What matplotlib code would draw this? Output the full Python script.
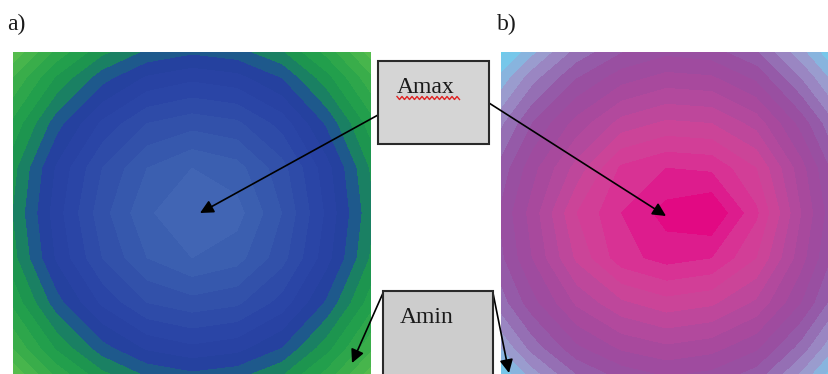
import numpy as np
import matplotlib
matplotlib.use("Agg")
import matplotlib.pyplot as plt
from matplotlib.colors import LinearSegmentedColormap
from matplotlib.patches import Rectangle
from matplotlib.lines import Line2D

W, H = 829, 374

# relative amplitude (%), 9x9 grid, top row first
amp_a = [
    [14, 30, 42, 49, 52, 50, 44, 32, 16],
    [30, 46, 58, 66, 69, 67, 60, 47, 31],
    [41, 58, 71, 80, 83, 81, 73, 59, 42],
    [48, 66, 80, 90, 95, 92, 82, 67, 49],
    [50, 68, 83, 94, 100, 97, 85, 69, 51],
    [48, 66, 80, 90, 95, 92, 82, 67, 49],
    [41, 58, 71, 80, 83, 81, 73, 59, 42],
    [30, 46, 58, 66, 69, 67, 60, 47, 31],
    [14, 30, 42, 49, 52, 50, 44, 32, 16],
]

# panel b, same grid, peak a bit lower and to the right
amp_b = [
    [10, 22, 36, 44, 48, 46, 40, 26, 10],
    [22, 38, 50, 58, 62, 61, 54, 40, 24],
    [34, 50, 62, 72, 76, 75, 68, 53, 36],
    [42, 58, 72, 86, 90, 89, 80, 62, 43],
    [46, 62, 80, 90, 97, 100, 86, 65, 46],
    [44, 60, 76, 88, 92, 90, 80, 62, 44],
    [38, 53, 66, 74, 78, 76, 69, 55, 38],
    [25, 42, 54, 61, 64, 62, 56, 43, 26],
    [10, 26, 39, 46, 50, 48, 42, 28, 11],
]

levels = np.arange(10, 105, 5)

cmap_a = LinearSegmentedColormap.from_list("amp_a", [
    (0.000, "#86d468"), (0.111, "#5cc04e"), (0.244, "#3aae4a"),
    (0.356, "#22a04c"), (0.444, "#1a9050"), (0.500, "#1a6e78"),
    (0.544, "#204e96"), (0.589, "#2640a0"), (0.689, "#2a44a6"),
    (0.800, "#3150aa"), (0.911, "#3a5eb0"), (1.000, "#4468b6"),
])
cmap_b = LinearSegmentedColormap.from_list("amp_b", [
    (0.000, "#5cd6ee"), (0.150, "#78c6ea"), (0.240, "#9aa0d0"),
    (0.300, "#9a88c4"), (0.378, "#9468b0"), (0.444, "#9650a2"),
    (0.556, "#a24a9e"), (0.667, "#b8489c"), (0.756, "#cc4498"),
    (0.844, "#d63a96"), (0.911, "#dc1e8e"), (1.000, "#e4007e"),
])


def px(x, y):
    # pixel position (y from top) -> figure fraction
    return x / W, 1 - y / H


fig = plt.figure(figsize=(W / 100, H / 100), dpi=100, facecolor="white")

gx = np.arange(9)
gy = np.arange(9)[::-1]

ax_a = fig.add_axes([13 / W, 0, 358 / W, 322 / H])
ax_a.contourf(gx, gy, np.array(amp_a), levels=levels, cmap=cmap_a)
ax_a.set_xlim(0, 8)
ax_a.set_ylim(0.4, 7.6)
ax_a.axis("off")

ax_b = fig.add_axes([501 / W, 0, 328 / W, 322 / H])
ax_b.contourf(gx, gy, np.array(amp_b), levels=levels, cmap=cmap_b)
ax_b.set_xlim(0.3, 7.63)
ax_b.set_ylim(0.4, 7.6)
ax_b.axis("off")

font = dict(family="Liberation Serif", fontsize=17, color="#1a1a1a")
fig.text(*px(7, 30), "a)", va="baseline", **font)
fig.text(*px(497, 30), "b)", va="baseline", **font)

# callout arrows
arrows = [((378, 115), (200, 213)), ((489, 103), (666, 216)),
          ((383, 293), (352, 363)), ((493, 293), (509, 373))]
for start, end in arrows:
    fig.add_artist(matplotlib.patches.FancyArrowPatch(
        px(*start), px(*end), transform=fig.transFigure,
        arrowstyle="-|>", mutation_scale=20, lw=1.2, color="black",
        shrinkA=0, shrinkB=0))

# label boxes
fig.add_artist(Rectangle(px(378, 144), 111 / W, 83 / H, transform=fig.transFigure,
                         facecolor="#d5d5d5", edgecolor="#2a2a2a", lw=1.5))
fig.add_artist(Rectangle(px(383, 380), 110 / W, 89 / H, transform=fig.transFigure,
                         facecolor="#cdcdcd", edgecolor="#2a2a2a", lw=1.5))
fig.text(*px(397, 93), "Amax", va="baseline", **font)
fig.text(*px(400, 323), "Amin", va="baseline", **font)

# red spell-check squiggle under Amax
sx = np.arange(397, 460, 2.5)
sy = 98 + np.where(np.arange(len(sx)) % 2 == 0, -1.5, 1.5)
fig.add_artist(Line2D(sx / W, 1 - sy / H, transform=fig.transFigure,
                      color="#e02020", lw=1.0))

fig.savefig("out.png", dpi=100, facecolor="white")
